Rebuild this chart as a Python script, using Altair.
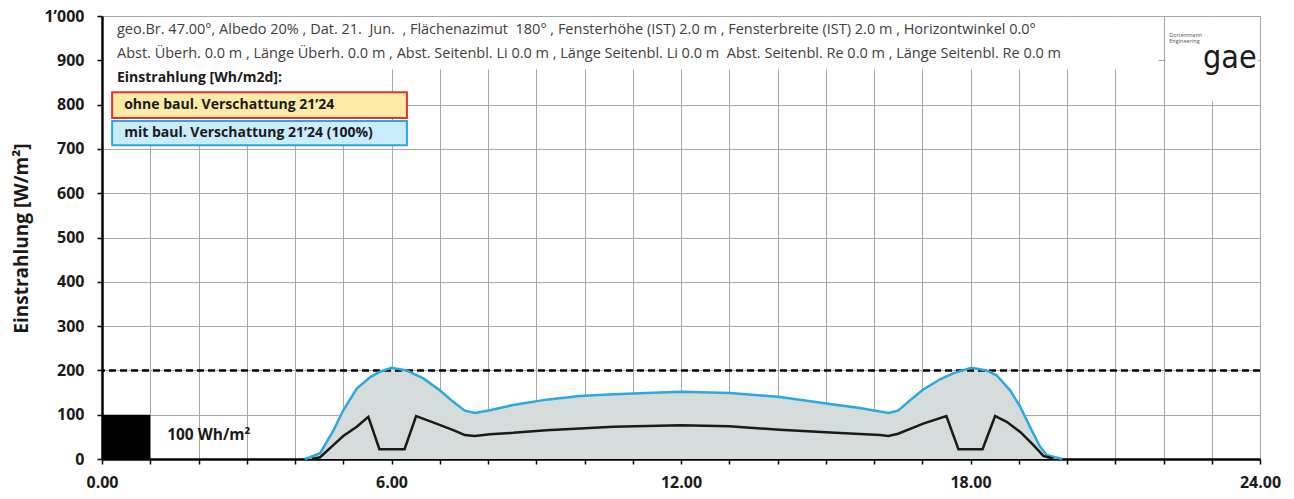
import altair as alt
import pandas as pd

# ---------------- data ----------------
blue_t = [4.2, 4.31, 4.52, 4.8, 5.0, 5.28, 5.56, 5.76, 6.0, 6.31, 6.66, 7.0, 7.28, 7.52, 7.73,
          8.04, 8.52, 9.21, 9.9, 10.6, 11.29, 12.0, 13.02, 14.05, 15.09, 15.7, 16.3, 16.5, 16.75,
          17.02, 17.37, 17.65, 18.02, 18.33, 18.54, 18.82, 19.03, 19.23, 19.44, 19.58, 19.75, 19.9]
blue_v = [0, 4, 13, 65, 110, 159, 185, 197, 206, 200, 182, 155, 129, 109, 104,
          110, 122, 134, 142, 146, 149, 152, 149, 140, 124, 115, 104, 109, 133,
          157, 180, 194, 206, 200, 189, 155, 118, 73, 28, 9, 4, 0]

black_t = [4.35, 4.52, 4.8, 5.0, 5.28, 5.52, 5.75, 6.27, 6.51, 6.93, 7.28, 7.52, 7.73, 8.04,
           8.52, 9.21, 10.6, 12.0, 13.0, 14.05, 15.1, 16.12, 16.3, 16.5, 17.02, 17.5, 17.75,
           18.25, 18.51, 18.75, 19.03, 19.3, 19.51, 19.65, 19.72]
black_v = [0, 4, 32, 52, 73, 95, 22, 22, 97, 80, 65, 54, 52, 56,
           59, 65, 73, 76, 74, 66, 60, 54, 52, 57, 80, 97, 22,
           22, 97, 84, 61, 32, 7, 3, 0]

x_ticks = list(range(0, 25))
y_ticks = list(range(0, 1001, 100))
threshold = [200]

NB = "\u00a0"
header_lines = [
    f"geo.Br. 47.00°, Albedo 20% , Dat. 21.{NB} Jun.{NB} , Flächenazimut{NB} 180° , Fensterhöhe (IST) 2.0 m , Fensterbreite (IST) 2.0 m , Horizontwinkel 0.0°",
    f"Abst. Überh. 0.0 m , Länge Überh. 0.0 m , Abst. Seitenbl. Li 0.0 m , Länge Seitenbl. Li 0.0 m{NB} Abst. Seitenbl. Re 0.0 m , Länge Seitenbl. Re 0.0 m",
]
legend_title = "Einstrahlung [Wh/m2d]:"
legend_labels = ["ohne baul. Verschattung 21’24", "mit baul. Verschattung 21’24 (100%)"]
scale_label = "100 Wh/m²"

FONT = "Open Sans"
GRID = "#a8a8a8"


def X(field="t"):
    return alt.X(
        f"{field}:Q",
        scale=alt.Scale(domain=[0, 24], nice=False, zero=False),
        axis=alt.Axis(
            values=x_ticks,
            labelExpr="datum.value % 6 == 0 ? format(datum.value, '.2f') : ''",
            labelOverlap=False, labelFlush=False,
            labelFont=FONT, labelFontSize=16, labelFontWeight="bold", labelColor="#1a1a1a",
            labelPadding=10, tickSize=5, tickColor="black", tickWidth=1.5,
            domainColor="black", domainWidth=2.5,
            grid=True, gridColor=GRID, gridWidth=1, title=None,
        ),
    )


def Y(field="v"):
    return alt.Y(
        f"{field}:Q",
        scale=alt.Scale(domain=[0, 1000], nice=False),
        axis=alt.Axis(
            values=y_ticks,
            labelExpr="datum.value == 1000 ? '1’000' : datum.label",
            labelOverlap=False, labelFlush=False,
            labelFont=FONT, labelFontSize=16, labelFontWeight="bold", labelColor="#1a1a1a",
            labelPadding=13, tickSize=5, tickColor="black", tickWidth=1.5,
            domainColor="black", domainWidth=2.5,
            grid=True, gridColor=GRID, gridWidth=1,
            title="Einstrahlung [W/m²]", titleFont=FONT, titleFontSize=19,
            titleFontWeight="bold", titleColor="#1a1a1a",
            titleAngle=270, titleAlign="center", titleBaseline="middle",
            titleX=-81, titleY=222,
        ),
    )


blue_df = pd.DataFrame({"t": blue_t, "v": blue_v})
black_df = pd.DataFrame({"t": black_t, "v": black_v})

# white boxes hiding the grid behind the header text and the logo
mask_df = pd.DataFrame({"t": [0.04, 22.05, 0.04], "t2": [21.9, 23.96, 5.6],
                        "v": [880, 808, 707], "v2": [997, 997, 880]})
masks = alt.Chart(mask_df).mark_rect(color="white").encode(x=X(), x2="t2", y=Y(), y2="v2")

area = alt.Chart(blue_df).mark_area(color="#d5dcdb", opacity=1).encode(x=X(), y=Y())

dash = alt.Chart(pd.DataFrame({"v": threshold})).mark_rule(
    color="black", strokeWidth=2.5, strokeDash=[7, 4]).encode(y=Y())

blue_line = alt.Chart(blue_df).mark_line(color="#29a9e0", strokeWidth=2.5).encode(x=X(), y=Y())
black_line = alt.Chart(black_df).mark_line(color="#1a1a1a", strokeWidth=2.5).encode(x=X(), y=Y())

square = alt.Chart(pd.DataFrame({"t": [0.0], "t2": [1.0], "v": [0], "v2": [100]})).mark_rect(
    color="black").encode(x=X(), x2="t2", y=Y(), y2="v2")
square_txt = alt.Chart(pd.DataFrame({"t": [1.35], "v": [54], "label": [scale_label]})).mark_text(
    align="left", baseline="middle", font=FONT, fontSize=15.5, fontWeight="bold", color="#1a1a1a"
).encode(x=X(), y=Y(), text="label:N")

header = alt.Chart(pd.DataFrame({"t": [0.31, 0.31], "v": [968, 914], "label": header_lines})).mark_text(
    align="left", baseline="middle", font=FONT, fontSize=14.5, color="#404040"
).encode(x=X(), y=Y(), text="label:N")

leg_title = alt.Chart(pd.DataFrame({"t": [0.31], "v": [860], "label": [legend_title]})).mark_text(
    align="left", baseline="middle", font=FONT, fontSize=14, fontWeight="bold", color="#1a1a1a"
).encode(x=X(), y=Y(), text="label:N")

box1 = alt.Chart(pd.DataFrame({"t": [0.21], "t2": [6.32], "v": [770], "v2": [828]})).mark_rect(
    fill="#fdeaa7", stroke="#e8312f", strokeWidth=2).encode(x=X(), x2="t2", y=Y(), y2="v2")
box2 = alt.Chart(pd.DataFrame({"t": [0.21], "t2": [6.32], "v": [708], "v2": [763]})).mark_rect(
    fill="#c8ecfb", stroke="#29a9e0", strokeWidth=2).encode(x=X(), x2="t2", y=Y(), y2="v2")
leg_txt = alt.Chart(pd.DataFrame({"t": [0.46, 0.46], "v": [799, 735], "label": legend_labels})).mark_text(
    align="left", baseline="middle", font=FONT, fontSize=14, fontWeight="bold", color="#1a1a1a"
).encode(x=X(), y=Y(), text="label:N")

logo_small = alt.Chart(pd.DataFrame({"t": [22.12, 22.12], "v": [957, 943],
                                     "label": ["Dortenmann", "Engineering"]})).mark_text(
    align="left", baseline="middle", font=FONT, fontSize=5.5, color="#555555"
).encode(x=X(), y=Y(), text="label:N")
logo_big = alt.Chart(pd.DataFrame({"t": [22.82], "v": [883], "label": ["gae"]})).mark_text(
    align="left", baseline="alphabetic", font="DejaVu Sans Condensed, Roboto", fontSize=32,
    color="#1a1a1a"
).encode(x=X(), y=Y(), text="label:N")

chart = alt.layer(
    masks, area, dash, blue_line, black_line, square, square_txt,
    header, leg_title, box1, box2, leg_txt, logo_small, logo_big,
).properties(
    width=1158, height=443,
    autosize=alt.AutoSizeParams(type="none"),
    padding={"left": 94, "top": 8, "right": 26, "bottom": 32},
).configure_view(stroke="black", strokeWidth=2).configure(background="white")

chart.save("out.html", embed_options={"renderer": "svg", "actions": False})
